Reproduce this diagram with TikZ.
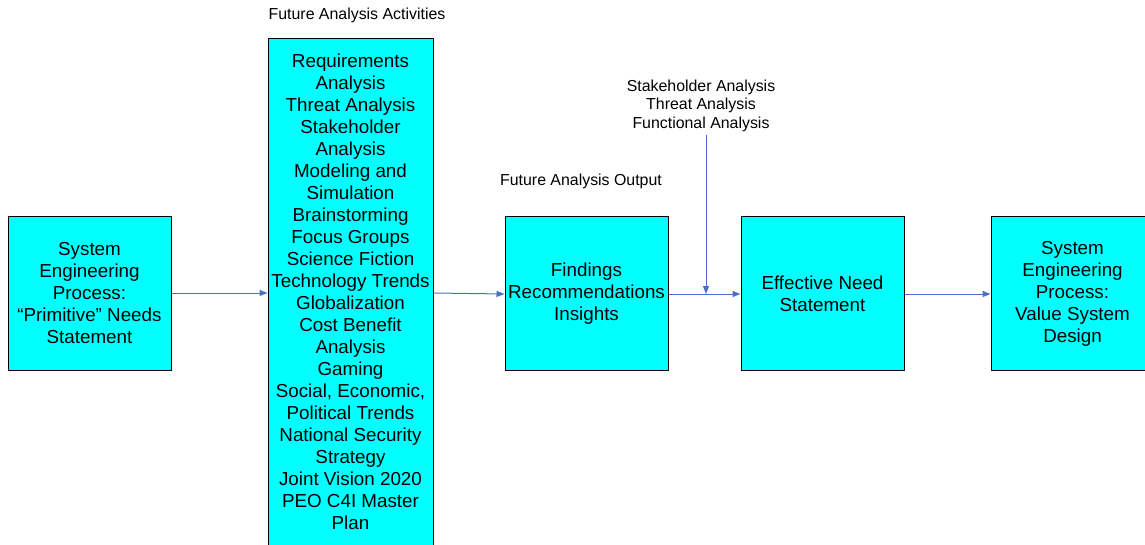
\documentclass[tikz,border=0pt]{standalone}
\usepackage{fontspec}
\setmainfont{Liberation Sans}
\usetikzlibrary{arrows.meta}
\definecolor{boxcyan}{RGB}{0,255,255}
\definecolor{arrowblue}{RGB}{72,114,196}
\begin{document}
\begin{tikzpicture}[x=1pt,y=-1pt,
  boxfont/.style={font=\fontsize{18.8}{22}\selectfont},
  box/.style={draw=black,line width=1pt,fill=boxcyan,minimum width=163pt,minimum height=153pt,align=center,boxfont,inner sep=0pt},
  lbl/.style={align=center,font=\fontsize{15.9}{18.5}\selectfont,inner sep=0pt},
  conn/.style={draw=arrowblue,line width=1pt,-{Triangle[length=8pt,width=6pt]}}]
\useasboundingbox (0,0) rectangle (1145,545);
\node[box] (b1) at (89.5,293.5) {System\\Engineering\\Process:\\“Primitive” Needs\\Statement};
\node[box,minimum width=165pt,minimum height=525pt] (b2) at (350.5,301.5) {};
\node[align=center,boxfont,inner sep=0pt,anchor=north] (b2t) at (350.5,54) {Requirements\\Analysis\\Threat Analysis\\Stakeholder\\Analysis\\Modeling and\\Simulation\\Brainstorming\\Focus Groups\\Science Fiction\\Technology Trends\\Globalization\\Cost Benefit\\Analysis\\Gaming\\Social, Economic,\\Political Trends\\National Security\\Strategy\\Joint Vision 2020\\PEO C4I Master\\Plan};
\node[box] (b3) at (586.5,293.5) {Findings\\Recommendations\\Insights};
\node[box] (b4) at (822.5,293.5) {Effective Need\\Statement};
\node[box] (b5) at (1072.5,293.5) {System\\Engineering\\Process:\\Value System\\Design};
\node[lbl] (l1) at (357,15) {Future Analysis Activities};
\node[lbl] (l2) at (581,181) {Future Analysis Output};
\node[lbl,anchor=south] (l3) at (701,132) {Stakeholder Analysis\\Threat Analysis\\Functional Analysis};
\coordinate (top) at (706,135);
\coordinate (join) at (706,294);
\draw[conn] (b1.east |- 0,293) -- (b2.west |- 0,293);
\draw[conn] (b2.east |- 0,293) -- (b3.west |- 0,294);
\draw[conn] (b3.east |- 0,294) -- (b4.west |- 0,294);
\draw[conn] (b4.east |- 0,294) -- (b5.west |- 0,294);
\draw[conn] (top) -- (join);
\end{tikzpicture}
\end{document}
